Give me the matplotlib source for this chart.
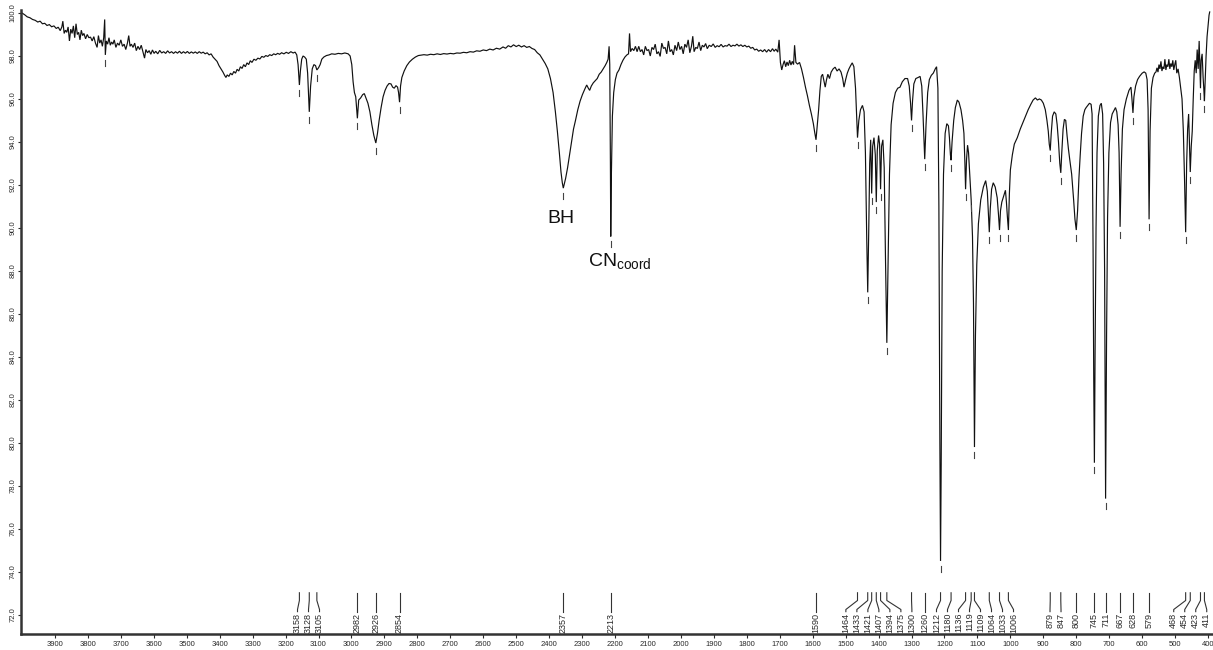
import numpy as np
import matplotlib
matplotlib.use("Agg")
import matplotlib.pyplot as plt

plt.rcParams["font.family"] = ["Liberation Sans", "DejaVu Sans"]
plt.rcParams["mathtext.fontset"] = "custom"
plt.rcParams["mathtext.rm"] = "Liberation Sans"

# ---- IR spectrum (wavenumber / cm-1, transmittance / %) by region ----
region_4000_3300 = [
    (4000, 100.0), (3992, 99.92), (3984, 99.82), (3976, 99.78), (3968, 99.7), (3960, 99.66),
    (3952, 99.58), (3945, 99.62), (3938, 99.5), (3931, 99.52), (3924, 99.42), (3917, 99.46),
    (3910, 99.36), (3903, 99.4), (3896, 99.28), (3890, 99.34), (3884, 99.18), (3879, 99.35),
    (3876, 99.62), (3872, 99.05), (3868, 99.2), (3864, 99.1), (3860, 99.35), (3856, 98.7),
    (3852, 99.25), (3848, 99.05), (3844, 99.4), (3840, 98.85), (3836, 99.5), (3832, 99.0),
    (3828, 99.1), (3824, 98.75), (3820, 99.2), (3816, 98.95), (3812, 99.05), (3807, 98.8),
    (3802, 99.0), (3797, 98.85), (3792, 98.88), (3787, 98.7), (3782, 98.9), (3777, 98.6),
    (3772, 98.4), (3768, 98.95), (3764, 98.6), (3760, 98.75), (3756, 98.45), (3752, 98.85),
    (3749, 99.7), (3747, 98.05), (3744, 98.7), (3740, 98.55), (3736, 98.85), (3732, 98.5),
    (3728, 98.65), (3724, 98.55), (3720, 98.75), (3715, 98.4), (3710, 98.6), (3705, 98.5),
    (3700, 98.75), (3695, 98.45), (3690, 98.55), (3685, 98.3), (3680, 98.6), (3676, 98.95),
    (3672, 98.45), (3668, 98.55), (3663, 98.4), (3658, 98.6), (3653, 98.25), (3648, 98.45),
    (3643, 98.3), (3638, 98.5), (3633, 98.2), (3628, 97.9), (3624, 98.3), (3619, 98.15),
    (3614, 98.25), (3609, 98.08), (3604, 98.28), (3599, 98.12), (3594, 98.22), (3588, 98.1),
    (3582, 98.26), (3576, 98.14), (3570, 98.2), (3564, 98.12), (3558, 98.24), (3552, 98.14),
    (3546, 98.2), (3540, 98.12), (3534, 98.2), (3528, 98.13), (3522, 98.22), (3516, 98.12),
    (3510, 98.2), (3504, 98.13), (3498, 98.21), (3492, 98.12), (3486, 98.19), (3480, 98.13),
    (3474, 98.19), (3468, 98.12), (3462, 98.2), (3456, 98.13), (3450, 98.18), (3444, 98.1),
    (3438, 98.15), (3432, 98.05), (3426, 98.1), (3420, 97.95), (3414, 97.85), (3408, 97.75),
    (3402, 97.55), (3396, 97.4), (3390, 97.25), (3385, 97.1), (3381, 97.0), (3377, 97.12),
    (3372, 97.05), (3367, 97.2), (3362, 97.12), (3357, 97.28), (3352, 97.2), (3347, 97.38),
    (3342, 97.3), (3337, 97.5), (3332, 97.42), (3327, 97.6), (3322, 97.5), (3317, 97.68),
    (3312, 97.6), (3307, 97.78), (3302, 97.7),
]

region_3300_2790 = [
    (3296, 97.85), (3290, 97.8), (3284, 97.9), (3278, 97.86), (3272, 97.98), (3266, 97.94),
    (3260, 98.02), (3254, 97.98), (3248, 98.06), (3242, 98.02), (3236, 98.1), (3230, 98.06),
    (3224, 98.12), (3218, 98.08), (3212, 98.15), (3205, 98.1), (3198, 98.17), (3191, 98.12),
    (3184, 98.2), (3177, 98.14), (3171, 98.18), (3166, 98.05), (3162, 97.6), (3158, 96.65),
    (3155, 97.3), (3151, 97.85), (3147, 98.0), (3142, 97.95), (3137, 97.85), (3133, 97.2),
    (3128, 95.4), (3124, 96.6), (3119, 97.4), (3114, 97.6), (3109, 97.55), (3105, 97.35),
    (3100, 97.45), (3095, 97.6), (3090, 97.85), (3084, 97.95), (3076, 98.02), (3068, 98.05),
    (3060, 98.1), (3050, 98.08), (3040, 98.12), (3030, 98.1), (3020, 98.14), (3010, 98.1),
    (3004, 98.0), (2999, 97.6), (2995, 96.8), (2991, 96.3), (2987, 96.1), (2982, 95.1),
    (2978, 95.95), (2972, 96.05), (2966, 96.2), (2961, 96.25), (2956, 96.05), (2950, 95.8),
    (2944, 95.4), (2938, 94.8), (2932, 94.3), (2926, 93.95), (2921, 94.4), (2916, 95.0),
    (2910, 95.6), (2904, 96.1), (2898, 96.4), (2892, 96.6), (2886, 96.72), (2880, 96.7),
    (2875, 96.55), (2870, 96.5), (2865, 96.62), (2860, 96.55), (2857, 96.3), (2854, 95.85),
    (2851, 96.6), (2847, 97.0), (2840, 97.3), (2832, 97.55), (2824, 97.72), (2815, 97.85),
    (2806, 97.95), (2797, 98.02),
]

region_2790_2130 = [
    (2780, 98.06), (2770, 98.04), (2760, 98.08), (2750, 98.06), (2740, 98.1), (2730, 98.07),
    (2720, 98.11), (2710, 98.09), (2700, 98.12), (2690, 98.1), (2680, 98.14), (2670, 98.13),
    (2660, 98.17), (2650, 98.15), (2640, 98.2), (2630, 98.18), (2620, 98.24), (2610, 98.22),
    (2600, 98.28), (2590, 98.25), (2580, 98.32), (2570, 98.28), (2560, 98.36), (2550, 98.32),
    (2540, 98.42), (2532, 98.36), (2524, 98.48), (2516, 98.42), (2508, 98.52), (2500, 98.44),
    (2492, 98.5), (2484, 98.42), (2476, 98.48), (2468, 98.4), (2460, 98.44), (2452, 98.35),
    (2444, 98.3), (2436, 98.15), (2428, 98.05), (2420, 97.85), (2412, 97.65), (2404, 97.4),
    (2396, 96.95), (2388, 96.3), (2381, 95.4), (2375, 94.5), (2369, 93.5), (2364, 92.6),
    (2360, 92.1), (2357, 91.85), (2354, 92.05), (2350, 92.3), (2344, 92.8), (2338, 93.4),
    (2332, 94.0), (2326, 94.6), (2320, 95.0), (2313, 95.5), (2306, 95.9), (2299, 96.2),
    (2292, 96.45), (2286, 96.65), (2281, 96.5), (2277, 96.4), (2272, 96.6), (2266, 96.75),
    (2260, 96.85), (2254, 96.95), (2248, 97.15), (2242, 97.25), (2236, 97.4), (2230, 97.55),
    (2225, 97.7), (2221, 97.85), (2218, 98.45), (2216, 97.6), (2214, 93.0), (2213, 89.6),
    (2211, 92.5), (2208, 95.2), (2204, 96.3), (2199, 96.9), (2194, 97.2), (2188, 97.35),
    (2182, 97.6), (2176, 97.8), (2170, 97.95), (2164, 98.05), (2159, 98.1), (2156, 99.05),
    (2153, 98.2), (2148, 98.35), (2143, 98.25), (2138, 98.45), (2133, 98.2),
]

region_2130_1480 = [
    (2128, 98.45), (2123, 98.2), (2118, 98.3), (2113, 98.05), (2108, 98.45), (2103, 98.25),
    (2098, 98.3), (2093, 98.0), (2088, 98.4), (2083, 98.3), (2078, 98.55), (2073, 98.1),
    (2068, 98.2), (2063, 97.98), (2058, 98.6), (2053, 98.35), (2048, 98.4), (2043, 98.1),
    (2038, 98.7), (2033, 98.2), (2028, 98.3), (2023, 98.05), (2018, 98.5), (2013, 98.25),
    (2008, 98.65), (2003, 98.3), (1998, 98.45), (1993, 98.1), (1988, 98.55), (1983, 98.4),
    (1978, 98.75), (1973, 98.15), (1968, 98.45), (1964, 98.92), (1960, 98.2), (1955, 98.4),
    (1950, 98.35), (1945, 98.65), (1940, 98.25), (1935, 98.5), (1930, 98.42), (1925, 98.58),
    (1920, 98.34), (1914, 98.5), (1908, 98.44), (1902, 98.56), (1896, 98.4), (1890, 98.48),
    (1884, 98.43), (1878, 98.54), (1872, 98.42), (1866, 98.48), (1860, 98.46), (1854, 98.55),
    (1848, 98.44), (1842, 98.5), (1836, 98.47), (1830, 98.55), (1824, 98.46), (1818, 98.52),
    (1812, 98.44), (1806, 98.5), (1800, 98.42), (1794, 98.46), (1788, 98.36), (1782, 98.4),
    (1776, 98.28), (1770, 98.32), (1764, 98.22), (1758, 98.28), (1752, 98.2), (1746, 98.3),
    (1740, 98.18), (1734, 98.3), (1728, 98.2), (1722, 98.34), (1717, 98.22), (1712, 98.32),
    (1706, 98.18), (1702, 98.75), (1698, 97.7), (1694, 97.35), (1690, 97.6), (1686, 97.78),
    (1682, 97.5), (1678, 97.72), (1674, 97.55), (1670, 97.8), (1666, 97.58), (1662, 97.75),
    (1658, 97.6), (1655, 98.5), (1651, 97.7), (1646, 97.62), (1640, 97.7), (1634, 97.4),
    (1628, 97.0), (1622, 96.55), (1616, 96.15), (1610, 95.7), (1604, 95.3), (1598, 94.85),
    (1594, 94.45), (1590, 94.1), (1586, 94.8), (1582, 95.5), (1578, 96.4), (1574, 97.05),
    (1570, 97.15), (1566, 96.85), (1562, 96.55), (1558, 96.9), (1554, 97.15), (1549, 96.95),
    (1544, 97.25), (1538, 97.4), (1532, 97.48), (1526, 97.3), (1520, 97.4), (1514, 97.25),
    (1509, 96.95), (1505, 96.55), (1500, 96.9), (1495, 97.2), (1490, 97.4), (1485, 97.55),
    (1480, 97.68),
]

region_1480_1340 = [
    (1475, 97.5), (1470, 96.5), (1467, 95.3), (1464, 94.2), (1460, 95.0), (1455, 95.5),
    (1449, 95.7), (1444, 95.4), (1440, 93.5), (1436, 89.5), (1433, 87.0), (1430, 89.8),
    (1427, 93.0), (1424, 94.1), (1421, 91.6), (1418, 93.8), (1414, 94.2), (1410, 93.4),
    (1407, 91.2), (1404, 93.6), (1400, 94.3), (1397, 93.9), (1394, 91.8), (1391, 93.8),
    (1387, 94.1), (1383, 92.8), (1379, 88.5), (1375, 84.65), (1371, 88.5), (1367, 92.5),
    (1362, 94.8), (1356, 95.8), (1349, 96.3), (1342, 96.5),
]

region_1340_1000 = [
    (1335, 96.55), (1328, 96.8), (1320, 96.95), (1312, 96.95), (1307, 96.6), (1303, 95.8),
    (1300, 95.0), (1297, 95.9), (1293, 96.7), (1287, 96.95), (1280, 97.0), (1274, 97.05),
    (1269, 96.6), (1265, 95.2), (1260, 93.2), (1256, 94.8), (1251, 96.3), (1246, 96.9),
    (1240, 97.1), (1234, 97.2), (1228, 97.4), (1224, 97.5), (1220, 96.5), (1217, 91.0),
    (1214, 80.0), (1212, 74.5), (1210, 79.0), (1207, 88.0), (1203, 92.5), (1198, 94.4),
    (1193, 94.85), (1188, 94.75), (1185, 94.2), (1182, 93.4), (1180, 93.15), (1177, 94.0),
    (1172, 95.0), (1167, 95.6), (1161, 95.95), (1156, 95.85), (1150, 95.5), (1145, 95.0),
    (1141, 94.4), (1138, 93.0), (1136, 91.8), (1133, 93.2), (1130, 93.85), (1127, 93.5),
    (1123, 92.4), (1119, 91.3), (1115, 89.6), (1112, 86.5), (1109, 79.8), (1106, 85.0),
    (1102, 88.3), (1097, 90.2), (1090, 91.3), (1082, 91.9), (1075, 92.2), (1070, 91.7),
    (1067, 90.8), (1064, 89.8), (1061, 90.9), (1057, 91.8), (1052, 92.1), (1046, 91.9),
    (1040, 91.4), (1036, 90.6), (1033, 89.9), (1030, 90.8), (1026, 91.2), (1020, 91.5),
    (1015, 91.75), (1012, 91.2), (1009, 90.5), (1006, 89.9), (1003, 91.6), (1000, 92.7),
]

region_1000_395 = [
    (994, 93.4), (988, 93.9), (979, 94.2), (970, 94.6), (962, 94.9), (955, 95.15),
    (946, 95.5), (938, 95.75), (931, 95.95), (924, 96.05), (918, 95.95), (912, 96.0),
    (906, 95.95), (900, 95.8), (894, 95.5), (889, 95.0), (885, 94.5), (882, 93.9),
    (879, 93.6), (876, 94.4), (872, 95.2), (867, 95.4), (862, 95.3), (858, 94.8),
    (854, 94.0), (850, 93.0), (847, 92.56), (844, 93.5), (840, 94.6), (836, 95.05),
    (832, 95.0), (828, 94.3), (824, 93.7), (820, 93.2), (814, 92.5), (808, 91.3),
    (804, 90.4), (800, 89.9), (796, 90.8), (792, 92.3), (788, 93.4), (784, 94.4),
    (779, 95.2), (774, 95.5), (770, 95.6), (765, 95.7), (760, 95.8), (755, 95.75),
    (752, 95.3), (749, 89.0), (747, 83.0), (745, 79.07), (743, 84.0), (740, 90.0),
    (737, 93.5), (733, 95.2), (728, 95.7), (724, 95.8), (720, 95.3), (717, 93.0),
    (714, 88.0), (711, 77.4), (708, 85.0), (705, 90.5), (701, 93.5), (696, 94.9),
    (691, 95.3), (686, 95.45), (681, 95.6), (677, 95.4), (673, 94.8), (670, 93.5),
    (667, 90.05), (664, 92.5), (660, 94.6), (655, 95.5), (648, 96.0), (640, 96.4),
    (634, 96.55), (631, 96.0), (628, 95.35), (625, 96.1), (620, 96.6), (614, 96.9),
    (608, 97.05), (600, 97.2), (594, 97.26), (589, 97.2), (585, 96.9), (582, 95.5),
    (579, 90.4), (576, 94.5), (572, 96.5), (567, 97.0), (562, 97.2), (558, 97.26),
    (555, 97.45), (552, 97.25), (549, 97.6), (546, 97.4), (543, 97.75), (540, 97.3),
    (537, 97.5), (534, 97.4), (531, 97.85), (528, 97.35), (525, 97.6), (522, 97.5),
    (519, 97.85), (516, 97.4), (513, 97.65), (510, 97.5), (507, 97.8), (504, 97.35),
    (501, 97.6), (498, 97.8), (495, 97.2), (491, 97.4), (487, 97.0), (483, 96.5),
    (479, 96.0), (475, 94.5), (471, 92.0), (468, 89.8), (465, 93.0), (462, 94.6),
    (459, 95.3), (457, 94.2), (454, 92.6), (451, 93.8), (448, 94.5), (445, 96.0),
    (442, 97.3), (439, 97.8), (436, 97.2), (433, 98.3), (430, 97.4), (427, 98.7),
    (425, 97.6), (423, 96.5), (421, 97.8), (418, 98.1), (415, 97.0), (413, 96.5),
    (411, 95.9), (409, 96.8), (406, 98.0), (403, 98.9), (400, 99.4), (397, 99.9),
    (395, 100.05),
]

# Picked peak positions (cm-1)
peak_wavenumbers = [3158, 3128, 3105, 2982, 2926, 2854, 2357, 2213, 1590, 1464, 1433,
                    1421, 1407, 1394, 1375, 1300, 1260, 1212, 1180, 1136, 1119, 1109,
                    1064, 1033, 1006, 879, 847, 800, 745, 711, 667, 628, 579, 468, 454,
                    423, 411]
# Marked but unlabelled position
extra_marks = [3748]

band_labels = ["BH", "CN$_{\\mathregular{coord}}$"]
band_positions = [2357, 2213]

y_ticks = np.arange(72, 101, 2)
x_ticks = np.arange(400, 4000, 100)

# ---- assemble the trace ----
segments = [region_4000_3300, region_3300_2790, region_2790_2130, region_2130_1480,
            region_1480_1340, region_1340_1000, region_1000_395]
pts = np.array([p for seg in segments for p in seg], dtype=float)
wn, tr = pts[:, 0], pts[:, 1]

fig = plt.figure(figsize=(12.13, 6.5), dpi=100)
ax = fig.add_axes([21 / 1213, 16 / 650, 1192 / 1213, 624 / 650])
ax.set_xlim(4003, 385)
ax.set_ylim(71.1, 100.14)

ax.plot(wn, tr, color="#111111", lw=0.85, solid_joinstyle="miter")

ink = "#2a2a2a"
for s in ("top", "right"):
    ax.spines[s].set_visible(False)
for s in ("left", "bottom"):
    ax.spines[s].set_linewidth(1.8)
    ax.spines[s].set_color("#333333")

ax.set_xticks(x_ticks)
ax.set_xticklabels([str(v) for v in x_ticks])
ax.set_yticks(y_ticks)
ax.set_yticklabels([f"{v:.1f}" for v in y_ticks], rotation=90, va="center")
ax.tick_params(axis="x", length=3, width=0.8, pad=2, labelsize=5.5, colors=ink)
ax.tick_params(axis="y", length=2, width=0.8, pad=1, labelsize=5.5, colors=ink)


def local_min(w0, half=2.5):
    sel = np.abs(wn - w0) <= half
    return tr[sel].min() if sel.any() else np.interp(-w0, -wn, tr)


# small dashes under each picked minimum
for w0 in peak_wavenumbers + extra_marks:
    t0 = local_min(w0)
    ax.plot([w0, w0], [t0 - 0.22, t0 - 0.5], color="#444444", lw=0.8)


# spread the peak labels so they never overlap and stay inside the frame
def spread(values, gap, lowest):
    u = -np.asarray(values, dtype=float)
    u_max = -lowest
    order = list(np.argsort(u))
    groups = [[i] for i in order]

    def place(g):
        c = np.mean(u[g])
        n = len(g)
        pos = [c + (k - (n - 1) / 2) * gap for k in range(n)]
        shift = min(0.0, u_max - pos[-1])
        return [p + shift for p in pos]

    merged = True
    while merged:
        merged = False
        for k in range(len(groups) - 1):
            a, b = place(groups[k]), place(groups[k + 1])
            if b[0] - a[-1] < gap - 1e-9:
                groups[k] = groups[k] + groups[k + 1]
                del groups[k + 1]
                merged = True
                break
    out = np.empty(len(u))
    for g in groups:
        for idx, pos in zip(g, place(g)):
            out[idx] = -pos
    return out


label_x = spread(peak_wavenumbers, 33.4, 404)
y_top, y_bend, y_join, y_text = 73.02, 72.66, 72.24, 72.14
for w0, lx in zip(peak_wavenumbers, label_x):
    if abs(lx - w0) < 0.5:
        ax.plot([w0, w0], [y_top, y_text], color="#333333", lw=0.8)
    else:
        ax.plot([w0, w0, lx, lx], [y_top, y_bend, y_join, y_text], color="#333333", lw=0.8)
    ax.text(lx, y_text - 0.05, str(w0), rotation=90, ha="center", va="top",
            fontsize=6.5, color=ink)

# band assignments
ax.text(band_positions[0] + 8, 90.23, band_labels[0], ha="center", va="baseline",
        fontsize=14, color="#111111")
ax.text(band_positions[1] + 70, 88.19, band_labels[1], ha="left", va="baseline",
        fontsize=14, color="#111111")

fig.savefig("out.png", dpi=100)
